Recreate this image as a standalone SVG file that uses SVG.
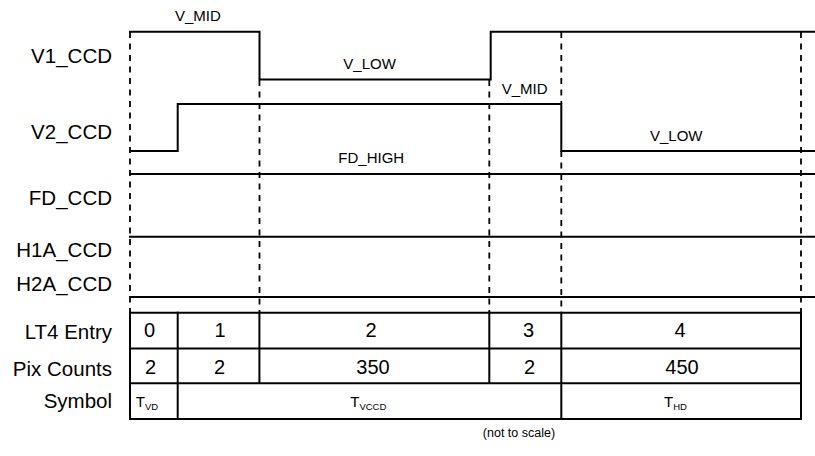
<svg xmlns="http://www.w3.org/2000/svg" width="815" height="456" viewBox="0 0 815 456">
<style>
.bg{fill:#ffffff}
.sig{fill:none;stroke:#000;stroke-width:2;stroke-linejoin:miter;stroke-linecap:square}
.dash{fill:none;stroke:#000;stroke-width:1.8;stroke-dasharray:6,5.5}
.grid{fill:none;stroke:#000;stroke-width:2}
.lbl{font-family:"Liberation Sans",Arial,Helvetica,sans-serif;font-size:20.5px;fill:#000;text-anchor:end}
.val{font-family:"Liberation Sans",Arial,Helvetica,sans-serif;font-size:15px;fill:#000}
.num{font-family:"Liberation Sans",Arial,Helvetica,sans-serif;font-size:20px;fill:#000;text-anchor:middle}
.sym{font-family:"Liberation Sans",Arial,Helvetica,sans-serif;font-size:15px;fill:#000;text-anchor:middle}
.sub{font-size:9.5px}
.note{font-family:"Liberation Sans",Arial,Helvetica,sans-serif;font-size:12.5px;fill:#000;text-anchor:middle}
</style>
<rect class="bg" x="0" y="0" width="815" height="456"/>

<g id="guides">
  <line class="dash" x1="130" y1="32" x2="130" y2="313"/>
  <line class="dash" x1="259.5" y1="80" x2="259.5" y2="313"/>
  <line class="dash" x1="489.3" y1="80" x2="489.3" y2="313"/>
  <line class="dash" x1="561.3" y1="32" x2="561.3" y2="104"/>
  <line class="dash" x1="561.3" y1="151" x2="561.3" y2="313"/>
  <line class="dash" x1="801" y1="32" x2="801" y2="313"/>
</g>

<g id="connectors">
  <polyline id="v1-wave" class="sig" points="130,31.7 259.5,31.7 259.5,79.5 490.7,79.5 490.7,31.7 815,31.7"/>
  <polyline id="v2-wave" class="sig" points="130,151 177.7,151 177.7,104 561.3,104 561.3,151 815,151"/>
  <line id="fd-top" class="sig" x1="130" y1="174" x2="815" y2="174"/>
  <line id="fd-bottom" class="sig" x1="130" y1="236.7" x2="815" y2="236.7"/>
  <line id="h2a-line" class="sig" x1="130" y1="297" x2="815" y2="297"/>
</g>

<g id="signal-labels">
  <text id="lbl-v1" class="lbl" x="112" y="62.5">V1_CCD</text>
  <text id="lbl-v2" class="lbl" x="112" y="139">V2_CCD</text>
  <text id="lbl-fd" class="lbl" x="112" y="205">FD_CCD</text>
  <text id="lbl-h1a" class="lbl" x="112" y="256.5">H1A_CCD</text>
  <text id="lbl-h2a" class="lbl" x="112" y="290.5">H2A_CCD</text>
</g>

<g id="level-labels">
  <text class="val" x="175" y="20.7">V_MID</text>
  <text class="val" x="343.3" y="69">V_LOW</text>
  <text class="val" x="338.3" y="163.3">FD_HIGH</text>
  <text class="val" x="501.7" y="94.3">V_MID</text>
  <text class="val" x="650" y="140.7">V_LOW</text>
</g>

<g id="table">
  <line class="grid" x1="130" y1="312.7" x2="801" y2="312.7"/>
  <line class="grid" x1="130" y1="348.5" x2="801" y2="348.5"/>
  <line class="grid" x1="130" y1="383.3" x2="801" y2="383.3"/>
  <line class="grid" x1="130" y1="419" x2="801" y2="419"/>
  <line class="grid" x1="130" y1="311.7" x2="130" y2="420"/>
  <line class="grid" x1="177.7" y1="311.7" x2="177.7" y2="420"/>
  <line class="grid" x1="259.4" y1="311.7" x2="259.4" y2="383.3"/>
  <line class="grid" x1="489.3" y1="311.7" x2="489.3" y2="383.3"/>
  <line class="grid" x1="561.3" y1="311.7" x2="561.3" y2="420"/>
  <line class="grid" x1="801" y1="311.7" x2="801" y2="420"/>
</g>

<g id="row-labels">
  <text class="lbl" x="112" y="339">LT4 Entry</text>
  <text class="lbl" x="112" y="376">Pix Counts</text>
  <text class="lbl" x="112" y="408.3">Symbol</text>
</g>

<g id="cells">
  <text class="num" x="149.5" y="337">0</text>
  <text class="num" x="220" y="337">1</text>
  <text class="num" x="371" y="337">2</text>
  <text class="num" x="528.5" y="337">3</text>
  <text class="num" x="680" y="337">4</text>
  <text class="num" x="150.5" y="374">2</text>
  <text class="num" x="219.5" y="374">2</text>
  <text class="num" x="373" y="374">350</text>
  <text class="num" x="529.5" y="374">2</text>
  <text class="num" x="682" y="374">450</text>
  <text class="sym" x="147" y="407.3">T<tspan class="sub" dy="3">VD</tspan></text>
  <text class="sym" x="368.3" y="407.3">T<tspan class="sub" dy="3">VCCD</tspan></text>
  <text class="sym" x="675.5" y="407.3">T<tspan class="sub" dy="3">HD</tspan></text>
</g>

<text id="note" class="note" x="519" y="437">(not to scale)</text>
</svg>
